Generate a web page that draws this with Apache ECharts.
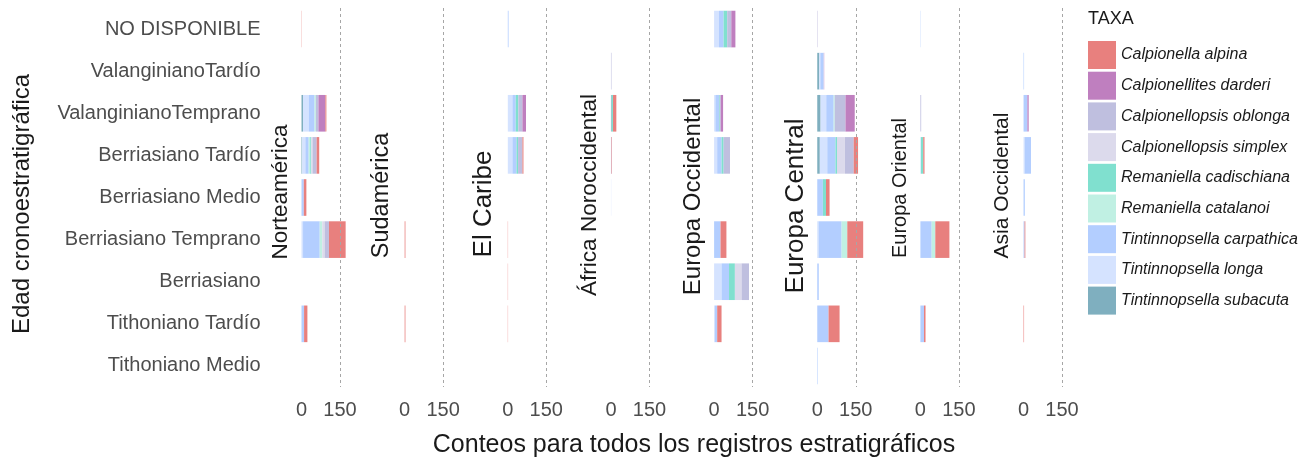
<!DOCTYPE html>
<html>
<head>
<meta charset="utf-8">
<script src="https://cdn.jsdelivr.net/npm/echarts@6/dist/echarts.min.js"></script>
<style>
  html, body { margin: 0; padding: 0; background: #ffffff; }
  #chart { width: 1309px; height: 462px; }
</style>
</head>
<body>
<div id="chart"></div>
<script>
// Stratigraphic ages, top to bottom
const ages = [
  'NO DISPONIBLE', 'ValanginianoTardío', 'ValanginianoTemprano', 'Berriasiano Tardío',
  'Berriasiano Medio', 'Berriasiano Temprano', 'Berriasiano', 'Tithoniano Tardío', 'Tithoniano Medio'
];

// Regions, one panel each
const regions = [
  'Norteamérica', 'Sudamérica', 'El Caribe', 'África Noroccidental',
  'Europa Occidental', 'Europa Central', 'Europa Oriental', 'Asia Occidental'
];

// Taxa in legend order
const taxa = [
  'Calpionella alpina', 'Calpionellites darderi', 'Calpionellopsis oblonga',
  'Calpionellopsis simplex', 'Remaniella cadischiana', 'Remaniella catalanoi',
  'Tintinnopsella carpathica', 'Tintinnopsella longa', 'Tintinnopsella subacuta'
];
const taxaColors = [
  '#E8807E', '#BF7FBF', '#BFBFDF', '#DCDAEC', '#80E0CF',
  '#C0F0E3', '#B3CEFF', '#D5E3FF', '#7FAFBF'
];

// Axis ticks
const xTicks = [0, 150];

// Record counts per region: taxon -> values per age (same order as ages)
const norteamerica = {
  'Calpionella alpina':        [1, 0, 4, 10, 10, 65, 0, 13, 0],
  'Calpionellites darderi':    [0, 0, 27, 0, 0, 0, 0, 0, 0],
  'Calpionellopsis oblonga':   [0, 0, 10, 16, 0, 17, 0, 0, 0],
  'Calpionellopsis simplex':   [0, 0, 0, 5, 0, 9, 0, 0, 0],
  'Remaniella cadischiana':    [0, 0, 0, 4, 0, 0, 0, 0, 0],
  'Remaniella catalanoi':      [0, 0, 5, 6, 0, 10, 0, 0, 0],
  'Tintinnopsella carpathica': [0, 0, 23, 13, 9, 65, 0, 10, 0],
  'Tintinnopsella longa':      [0, 0, 22, 12, 0, 6, 0, 0, 0],
  'Tintinnopsella subacuta':   [0, 0, 6, 3, 0, 0, 0, 0, 0]
};
const sudamerica = {
  'Calpionella alpina':        [0, 0, 0, 0, 0, 3, 0, 3, 0]
};
const elCaribe = {
  'Calpionella alpina':        [0, 0, 0, 4, 0, 1, 1, 1, 0],
  'Calpionellites darderi':    [0, 0, 14, 0, 0, 0, 0, 0, 0],
  'Calpionellopsis oblonga':   [0, 0, 16, 17, 0, 0, 0, 0, 0],
  'Remaniella cadischiana':    [0, 0, 10, 6, 0, 0, 0, 0, 0],
  'Tintinnopsella carpathica': [3, 0, 13, 16, 0, 0, 0, 0, 0],
  'Tintinnopsella longa':      [0, 0, 18, 18, 0, 0, 0, 0, 0]
};
const africaNoroccidental = {
  'Calpionella alpina':        [0, 0, 13, 2, 0, 0, 0, 0, 0],
  'Calpionellopsis oblonga':   [0, 2, 0, 0, 0, 0, 0, 0, 0],
  'Remaniella cadischiana':    [0, 0, 5, 0, 0, 0, 0, 0, 0],
  'Tintinnopsella carpathica': [0, 0, 0, 2, 0, 0, 0, 0, 0],
  'Tintinnopsella longa':      [0, 0, 0, 0, 1, 0, 0, 0, 0],
  'Tintinnopsella subacuta':   [0, 0, 3, 0, 0, 0, 0, 0, 0]
};
const europaOccidental = {
  'Calpionella alpina':        [0, 0, 0, 0, 0, 23, 0, 17, 0],
  'Calpionellites darderi':    [16, 0, 9, 0, 0, 0, 0, 0, 0],
  'Calpionellopsis oblonga':   [16, 0, 4, 25, 0, 0, 29, 0, 0],
  'Calpionellopsis simplex':   [0, 0, 0, 0, 0, 0, 26, 0, 0],
  'Remaniella cadischiana':    [14, 0, 3, 8, 0, 0, 23, 0, 0],
  'Tintinnopsella carpathica': [18, 0, 14, 17, 0, 25, 29, 9, 0],
  'Tintinnopsella longa':      [19, 0, 5, 12, 0, 0, 29, 3, 0]
};
const europaCentral = {
  'Calpionella alpina':        [0, 0, 0, 17, 14, 62, 0, 43, 0],
  'Calpionellites darderi':    [0, 1, 36, 0, 0, 0, 0, 0, 0],
  'Calpionellopsis oblonga':   [0, 0, 42, 34, 0, 0, 0, 0, 0],
  'Calpionellopsis simplex':   [3, 1, 0, 31, 0, 0, 0, 0, 0],
  'Remaniella cadischiana':    [0, 0, 0, 6, 12, 0, 0, 0, 0],
  'Remaniella catalanoi':      [0, 0, 4, 0, 0, 22, 0, 0, 0],
  'Tintinnopsella carpathica': [0, 13, 29, 32, 22, 90, 6, 44, 2],
  'Tintinnopsella longa':      [0, 4, 22, 29, 0, 5, 0, 0, 0],
  'Tintinnopsella subacuta':   [0, 8, 13, 10, 0, 0, 0, 0, 0]
};
const europaOriental = {
  'Calpionella alpina':        [0, 0, 0, 5, 0, 55, 0, 6, 0],
  'Calpionellopsis oblonga':   [0, 0, 3, 0, 0, 0, 0, 0, 0],
  'Remaniella cadischiana':    [0, 0, 0, 9, 0, 0, 0, 0, 0],
  'Remaniella catalanoi':      [0, 0, 0, 0, 0, 14, 0, 0, 0],
  'Tintinnopsella carpathica': [0, 0, 0, 0, 0, 44, 0, 14, 0],
  'Tintinnopsella longa':      [2, 0, 0, 2, 0, 0, 0, 0, 0]
};
const asiaOccidental = {
  'Calpionella alpina':        [0, 0, 0, 0, 0, 3, 0, 2, 0],
  'Calpionellites darderi':    [0, 0, 5, 0, 0, 0, 0, 0, 0],
  'Tintinnopsella carpathica': [0, 2, 15, 25, 5, 4, 0, 0, 0],
  'Tintinnopsella longa':      [0, 0, 0, 4, 0, 0, 0, 0, 0]
};

const regionCounts = [
  norteamerica, sudamerica, elCaribe, africaNoroccidental,
  europaOccidental, europaCentral, europaOriental, asiaOccidental
];

// ---- layout ----
const FONT = 'Liberation Sans, Arial, Helvetica, sans-serif';
const X_MAX = 190;
const PX_PER_UNIT = 38.5 / 150;
const PANEL_STEP = 103.15;
const FIRST_ZERO = 301.5;
const GRID_TOP = 8;
const GRID_HEIGHT = 379;

// Strip label placement (centre x, centre y, font size)
const stripLabels = [
  [281, 192, 22.5], [382, 195.5, 23.5], [484, 204, 26], [590, 195, 22.6],
  [693, 196.5, 24], [796, 206, 26], [900, 188, 20], [1002, 185.5, 21]
];

const grids = [], xAxes = [], yAxes = [], series = [];
const stackOrder = taxa.slice().reverse();

regions.forEach((region, r) => {
  const left = FIRST_ZERO + PANEL_STEP * r;
  grids.push({ left: left, top: GRID_TOP, width: X_MAX * PX_PER_UNIT, height: GRID_HEIGHT });
  xAxes.push({
    type: 'value', gridIndex: r, min: 0, max: X_MAX, interval: 150,
    axisLine: { show: false }, axisTick: { show: false }, splitLine: { show: false },
    axisLabel: {
      margin: 13, fontSize: 20, color: '#4d4d4d', fontFamily: FONT,
      formatter: v => (xTicks.indexOf(v) >= 0 ? String(v) : '')
    }
  });
  yAxes.push({
    type: 'category', gridIndex: r, data: ages, inverse: true,
    axisLine: { show: false }, axisTick: { show: false }, splitLine: { show: false },
    axisLabel: {
      show: r === 0, margin: 41, fontSize: 20, color: '#4d4d4d', fontFamily: FONT
    }
  });
  const counts = regionCounts[r];
  stackOrder.forEach((taxon, k) => {
    const values = counts[taxon] || ages.map(() => 0);
    const s = {
      name: taxon, type: 'bar', stack: 'region' + r,
      xAxisIndex: r, yAxisIndex: r,
      data: values,
      barCategoryGap: '13%',
      itemStyle: { color: taxaColors[taxa.indexOf(taxon)] },
      emphasis: { disabled: true }
    };
    if (k === 0) {
      s.markLine = {
        silent: true, symbol: 'none',
        label: { show: false },
        lineStyle: { color: '#a6a6a6', type: [3, 3], width: 1 },
        data: [{ xAxis: 150 }]
      };
    }
    series.push(s);
  });
});

const graphics = [
  {
    type: 'text', left: 1088, top: 10,
    style: { text: 'TAXA', fontSize: 18, fill: '#1a1a1a', fontFamily: FONT }
  },
  {
    type: 'text', x: 694, y: 445,
    style: {
      text: 'Conteos para todos los registros estratigráficos',
      fontSize: 25, fill: '#1a1a1a', fontFamily: FONT,
      align: 'center', verticalAlign: 'middle', textAlign: 'center', textVerticalAlign: 'middle'
    }
  },
  {
    type: 'text', x: 22, y: 204, rotation: Math.PI / 2,
    style: {
      text: 'Edad cronoestratigráfica',
      fontSize: 24, fill: '#1a1a1a', fontFamily: FONT,
      align: 'center', verticalAlign: 'middle', textAlign: 'center', textVerticalAlign: 'middle'
    }
  }
];
regions.forEach((region, r) => {
  const [cx, cy, fs] = stripLabels[r];
  graphics.push({
    type: 'text', x: cx, y: cy, rotation: Math.PI / 2,
    style: {
      text: region, fontSize: fs, fill: '#1a1a1a', fontFamily: FONT,
      align: 'center', verticalAlign: 'middle', textAlign: 'center', textVerticalAlign: 'middle'
    }
  });
});

const chart = echarts.init(document.getElementById('chart'), null, { renderer: 'canvas' });
chart.setOption({
  animation: false,
  backgroundColor: '#ffffff',
  grid: grids,
  xAxis: xAxes,
  yAxis: yAxes,
  legend: {
    data: taxa, orient: 'vertical', left: 1088, top: 41, padding: 0,
    icon: 'rect', itemWidth: 28, itemHeight: 28, itemGap: 2.7,
    selectedMode: false,
    textStyle: { fontSize: 16, fontStyle: 'italic', color: '#1a1a1a', fontFamily: FONT }
  },
  graphic: graphics,
  series: series
});
</script>
</body>
</html>
